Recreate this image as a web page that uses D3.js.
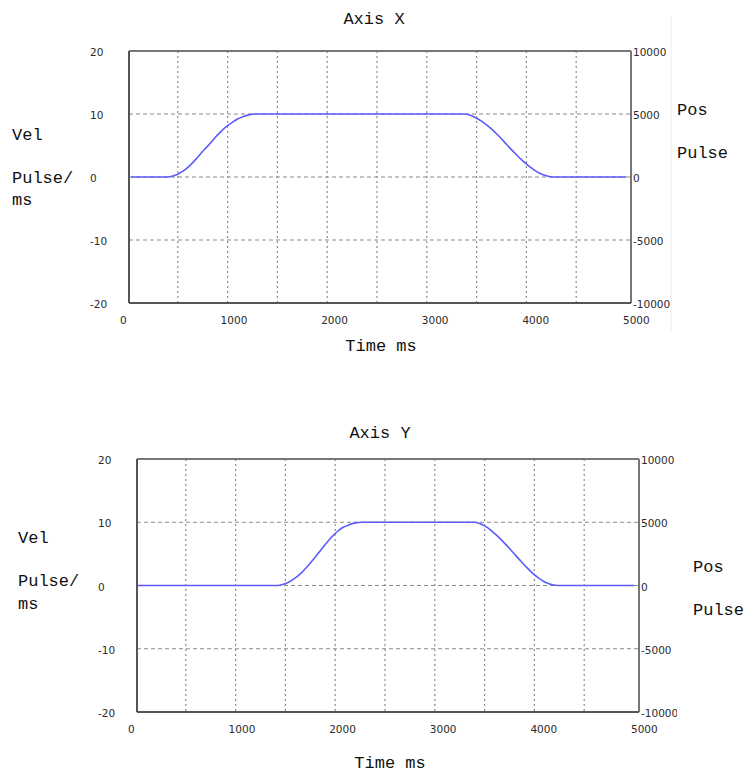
<!DOCTYPE html>
<html><head><meta charset="utf-8">
<script src="https://cdn.jsdelivr.net/npm/d3@7"></script>
<style>body{margin:0;background:#fff}</style>
</head><body>
<svg id="c" width="749" height="774"></svg>
<script>
// ---- data ----
const xTicks = [0, 1000, 2000, 3000, 4000, 5000];
const xGrid = [500, 1000, 1500, 2000, 2500, 3000, 3500, 4000, 4500];
const velTicks = [20, 10, 0, -10, -20];
const posTicks = [10000, 5000, 0, -5000, -10000];
const velGrid = [10, 0, -10];

const axisXTime = [30, 390, 450, 500, 560, 620, 680, 740, 800, 860, 920, 980, 1040, 1100, 1160, 1220, 1270,
  3370, 3430, 3490, 3560, 3640, 3720, 3800, 3880, 3950, 4020, 4080, 4140, 4200, 4270, 5000];
const axisXVel = [0, 0, 0.15, 0.45, 1.0, 1.8, 2.8, 3.9, 4.9, 6.0, 7.0, 7.9, 8.6, 9.2, 9.6, 9.9, 10,
  10, 9.85, 9.4, 8.75, 7.75, 6.55, 5.2, 3.85, 2.75, 1.8, 1.1, 0.55, 0.2, 0, 0];

const axisYTime = [20, 1420, 1480, 1540, 1600, 1660, 1720, 1780, 1840, 1900, 1960, 2020, 2080, 2140, 2200, 2270,
  3390, 3450, 3510, 3570, 3630, 3690, 3750, 3810, 3870, 3930, 3990, 4050, 4110, 4170, 4240, 5000];
const axisYVel = [0, 0, 0.2, 0.6, 1.2, 2.0, 3.0, 4.1, 5.3, 6.5, 7.6, 8.5, 9.2, 9.6, 9.9, 10,
  10, 9.8, 9.35, 8.65, 7.8, 6.85, 5.85, 4.8, 3.75, 2.75, 1.85, 1.1, 0.5, 0.15, 0, 0];

const svg = d3.select("#c");
svg.append("rect").attr("width", 749).attr("height", 774).attr("fill", "#fff");

const MONO = "'Liberation Mono', 'DejaVu Sans Mono', monospace";
const NUM = "'DejaVu Sans', sans-serif";

function chart(o) {
  const g = svg.append("g");
  const x = d3.scaleLinear().domain([0, 5000]).range([o.x0, o.x1]);
  const xl = d3.scaleLinear().domain([0, 5000]).range([o.x0 - 8, o.x1 - 3]);
  const y = d3.scaleLinear().domain([-20, 20]).range([o.y1, o.y0]);
  const yp = d3.scaleLinear().domain([-10000, 10000]).range([o.y1, o.y0]);
  const bx0 = o.x0 + 1, bx1 = o.x1 + 5;

  // grid
  g.selectAll(".vg").data(xGrid).join("line")
    .attr("x1", d => x(d)).attr("x2", d => x(d))
    .attr("y1", o.y0).attr("y2", o.y1)
    .attr("stroke", "#8a8a8a").attr("stroke-width", 1.2).attr("stroke-dasharray", "2,3");
  g.selectAll(".hg").data(velGrid).join("line")
    .attr("x1", bx0).attr("x2", bx1)
    .attr("y1", d => y(d)).attr("y2", d => y(d))
    .attr("stroke", "#8a8a8a").attr("stroke-width", 1.2).attr("stroke-dasharray", "4,3");

  // frame
  g.append("line").attr("x1", bx0).attr("x2", bx1).attr("y1", o.y0).attr("y2", o.y0)
    .attr("stroke", "#777").attr("stroke-width", 2);
  g.append("line").attr("x1", bx1).attr("x2", bx1).attr("y1", o.y0).attr("y2", o.y1)
    .attr("stroke", "#777").attr("stroke-width", 2);
  g.append("line").attr("x1", bx0).attr("x2", bx0).attr("y1", o.y0).attr("y2", o.y1)
    .attr("stroke", "#555").attr("stroke-width", 2);
  g.append("line").attr("x1", bx0).attr("x2", bx1).attr("y1", o.y1).attr("y2", o.y1)
    .attr("stroke", "#555").attr("stroke-width", 2);

  // curve
  const pts = o.t.map((t, i) => [t, o.v[i]]);
  g.append("path").datum(pts)
    .attr("d", d3.line().x(d => x(d[0])).y(d => y(d[1])).curve(d3.curveMonotoneX))
    .attr("fill", "none").attr("stroke", "#5b5bff").attr("stroke-width", 1.6);

  // tick labels
  g.selectAll(".xt").data(xTicks).join("text")
    .attr("x", d => xl(d)).attr("y", o.y1 + 17)
    .attr("dominant-baseline", "central")
    .attr("font-family", NUM).attr("font-size", 10.5).attr("fill", "#2a2a2a")
    .text(d => d);
  g.selectAll(".yt").data(velTicks).join("text")
    .attr("x", o.x0 - 38).attr("y", d => y(d) + 1)
    .attr("dominant-baseline", "central")
    .attr("font-family", NUM).attr("font-size", 10.5).attr("fill", "#2a2a2a")
    .text(d => d);
  const clip = "clip" + o.id;
  svg.append("clipPath").attr("id", clip).append("rect")
    .attr("x", bx1).attr("y", o.y0 - 20).attr("width", o.clipW).attr("height", o.y1 - o.y0 + 40);
  g.append("g").attr("clip-path", `url(#${clip})`)
    .selectAll(".pt").data(posTicks).join("text")
    .attr("x", bx1 + 2).attr("y", d => yp(d) + 1)
    .attr("dominant-baseline", "central")
    .attr("font-family", NUM).attr("font-size", 10.5).attr("fill", "#2a2a2a")
    .text(d => d);

  // titles
  const txt = (s, tx, ty, anchor) => g.append("text").attr("x", tx).attr("y", ty)
    .attr("dominant-baseline", "central").attr("text-anchor", anchor || "start")
    .attr("font-family", MONO).attr("font-size", 17).attr("fill", "#111").text(s);
  txt(o.title, o.titleX, o.titleY, "middle");
  txt("Time ms", o.timeX, o.timeY, "middle");
  txt("Vel", o.lx, o.velY);
  txt("Pulse/", o.lx, o.pulseY);
  txt("ms", o.lx, o.msY);
  txt("Pos", o.rx, o.posY);
  txt("Pulse", o.rx, o.rpulseY);
}

// faint border line of the top widget
svg.append("line").attr("x1", 671).attr("x2", 671).attr("y1", 17).attr("y2", 333)
  .attr("stroke", "#ececec").attr("stroke-width", 1);

chart({id: "X", title: "Axis X", t: axisXTime, v: axisXVel,
  x0: 128, x1: 626, y0: 51, y1: 303, clipW: 40,
  titleX: 374, titleY: 19, timeX: 381, timeY: 346,
  lx: 12, velY: 135, pulseY: 178, msY: 200,
  rx: 677, posY: 110, rpulseY: 153});

chart({id: "Y", title: "Axis Y", t: axisYTime, v: axisYVel,
  x0: 136, x1: 634, y0: 459, y1: 712, clipW: 38,
  titleX: 380, titleY: 433, timeX: 390, timeY: 763,
  lx: 18, velY: 538, pulseY: 581, msY: 604,
  rx: 693, posY: 567, rpulseY: 610});
</script>
</body></html>
